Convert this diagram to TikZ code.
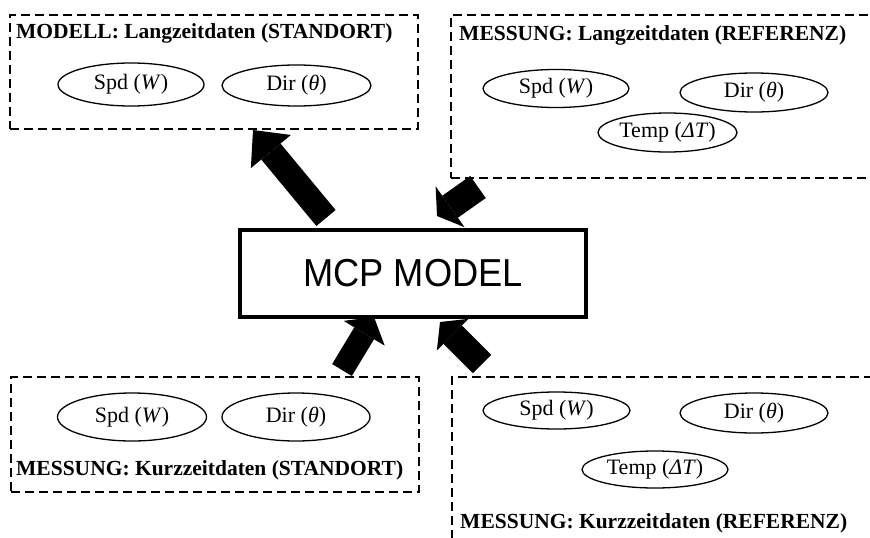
\documentclass[tikz,border=0pt]{standalone}
\usepackage{fontspec}
\setmainfont{Liberation Serif}
\newfontfamily\mcpfont[FakeStretch=0.93]{Liberation Sans}
\usetikzlibrary{arrows.meta,shapes.geometric}

\tikzset{
  region/.style={draw, dash pattern=on 9pt off 5pt, line width=2.5pt, inner sep=0pt},
  boxtitle/.style={anchor=base west, inner sep=0pt, font=\fontsize{21.5}{24}\selectfont\bfseries},
  oval/.style={draw, ellipse, line width=1.3pt, inner sep=0pt, font=\fontsize{22}{24}\selectfont},
  blockarrow/.style n args={3}{line width=#1, -{Triangle[width=#2,length=#3,line width=0pt]}},
}

\begin{document}
\begin{tikzpicture}[x=1pt,y=-1pt]
    \useasboundingbox (0,0) rectangle (870,538);
    \clip (0,0) rectangle (870,538);
    % dashed regions
    \node[region, minimum width=408pt, minimum height=114pt] (tlbox) at (214,72) {};
    \node[region, minimum width=449pt, minimum height=163pt] (trbox) at (675.5,96.5) {};
    \node[region, minimum width=408pt, minimum height=115pt] (blbox) at (215,434.5) {};
    \node[region, minimum width=448pt, minimum height=183pt] (brbox) at (676,468.5) {};
    \node[boxtitle] (tltitle) at (16,38) {MODELL: Langzeitdaten (STANDORT)};
    \node[boxtitle] (trtitle) at (459,40) {MESSUNG: Langzeitdaten (REFERENZ)};
    \node[boxtitle] (bltitle) at (16,475) {MESSUNG: Kurzzeitdaten (STANDORT)};
    \node[boxtitle] (brtitle) at (460,528) {MESSUNG: Kurzzeitdaten (REFERENZ)};
    % variables
    \node[oval, minimum width=146pt, minimum height=43pt] (tlspd) at (131,84.5) {Spd (\textit{W})};
    \node[oval, minimum width=149pt, minimum height=41pt] (tldir) at (296.5,85.5) {Dir (\textit{θ})};
    \node[oval, minimum width=146pt, minimum height=38pt] (trspd) at (556,88.5) {Spd (\textit{W})};
    \node[oval, minimum width=148pt, minimum height=39pt] (trdir) at (754,92.5) {Dir (\textit{θ})};
    \node[oval, minimum width=139pt, minimum height=39pt] (trtemp) at (667.5,132.5) {Temp (\textit{ΔT})};
    \node[oval, minimum width=149pt, minimum height=48pt] (blspd) at (132,417) {Spd (\textit{W})};
    \node[oval, minimum width=148pt, minimum height=48pt] (bldir) at (296,417) {Dir (\textit{θ})};
    \node[oval, minimum width=147pt, minimum height=37pt] (brspd) at (556.5,410.5) {Spd (\textit{W})};
    \node[oval, minimum width=148pt, minimum height=40pt] (brdir) at (754,413) {Dir (\textit{θ})};
    \node[oval, minimum width=146pt, minimum height=37pt] (brtemp) at (655,469.5) {Temp (\textit{ΔT})};
    % model
    \node[draw, line width=4pt, minimum width=346pt, minimum height=87pt,
          font=\mcpfont\fontsize{39}{40}\selectfont] (mcp) at (413,273) {MCP MODEL};
    % arrows
    \coordinate (outs) at (326,218);
    \coordinate (oute) at (253,130);
    \coordinate (refls) at (478,187);
    \coordinate (refle) at (437,216);
    \coordinate (stks) at (342,370);
    \coordinate (stke) at (374,317);
    \coordinate (refks) at (482,364);
    \coordinate (refke) at (440,322);
    \draw[blockarrow={25pt}{52pt}{28pt}] (outs) -- (oute);
    \draw[blockarrow={27pt}{50pt}{16pt}] (refls) -- (refle);
    \draw[blockarrow={23pt}{48pt}{19pt}] (stks) -- (stke);
    \draw[blockarrow={26pt}{45pt}{18pt}] (refks) -- (refke);
\end{tikzpicture}
\end{document}
